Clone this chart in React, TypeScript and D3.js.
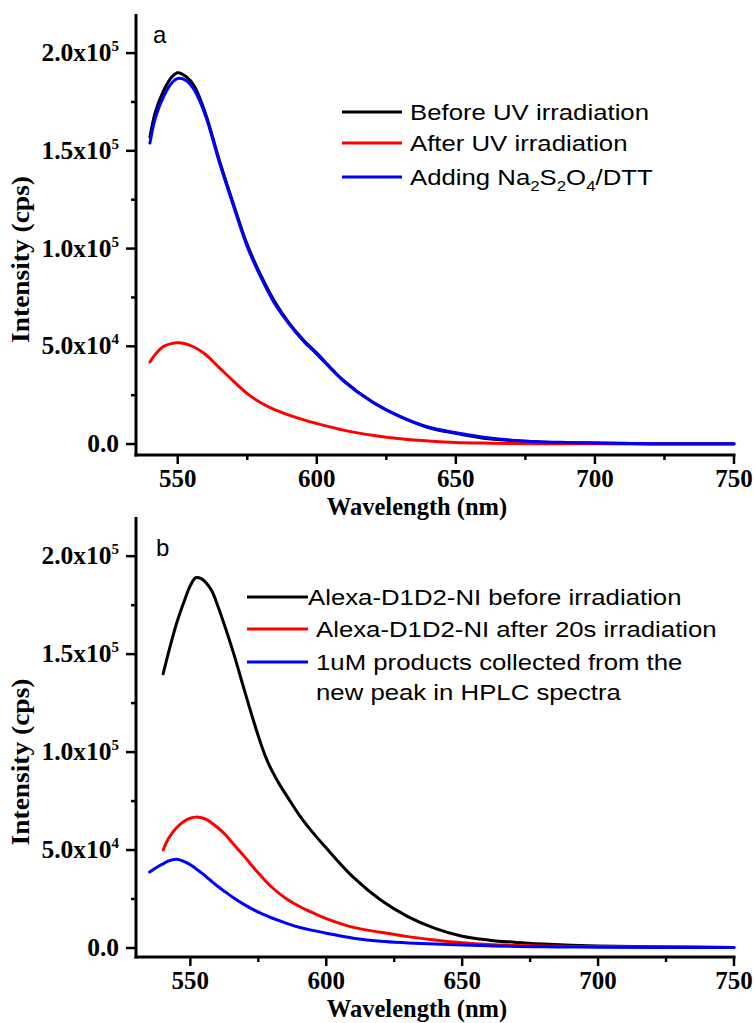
import React from "react";
import * as d3 from "d3";

// ---------- DATA (intensity in units of 10^5 cps) ----------
const wavelengthsA = [540, 542, 545, 548, 550, 553, 556, 560, 565, 570, 575, 580, 585, 590, 595, 600, 610, 620, 630, 640, 650, 660, 670, 680, 690, 700, 720, 750];
const beforeUV = [1.57, 1.70, 1.81, 1.88, 1.90, 1.88, 1.83, 1.69, 1.45, 1.23, 1.02, 0.86, 0.725, 0.62, 0.535, 0.465, 0.32, 0.215, 0.14, 0.085, 0.055, 0.03, 0.018, 0.011, 0.007, 0.005, 0.002, 0.001];
const afterUV = [0.42, 0.46, 0.50, 0.515, 0.518, 0.512, 0.495, 0.458, 0.39, 0.322, 0.258, 0.21, 0.175, 0.148, 0.125, 0.105, 0.07, 0.045, 0.027, 0.016, 0.008, 0.005, 0.003, 0.002, 0.001, 0.001, 0.0, 0.0];
const addingNa = [1.54, 1.67, 1.78, 1.85, 1.87, 1.86, 1.81, 1.68, 1.44, 1.22, 1.01, 0.85, 0.715, 0.615, 0.53, 0.46, 0.318, 0.215, 0.14, 0.087, 0.058, 0.035, 0.02, 0.012, 0.008, 0.005, 0.002, 0.001];

const wavelengthsB = [535, 538, 540, 542, 545, 548, 550, 552, 554, 556, 558, 560, 563, 566, 570, 573, 576, 578, 580, 583, 586, 590, 595, 600, 610, 620, 630, 640, 650, 660, 670, 680, 690, 700, 720, 750];
const alexaBefore = [null, null, 1.40, 1.51, 1.66, 1.78, 1.85, 1.89, 1.885, 1.86, 1.82, 1.75, 1.63, 1.50, 1.31, 1.17, 1.04, 0.965, 0.905, 0.83, 0.765, 0.68, 0.59, 0.51, 0.36, 0.245, 0.16, 0.10, 0.06, 0.04, 0.028, 0.02, 0.014, 0.01, 0.006, 0.003];
const alexaAfter = [null, null, 0.50, 0.56, 0.615, 0.65, 0.662, 0.668, 0.665, 0.655, 0.637, 0.615, 0.577, 0.528, 0.465, 0.415, 0.367, 0.337, 0.31, 0.275, 0.245, 0.213, 0.18, 0.15, 0.105, 0.08, 0.058, 0.041, 0.027, 0.018, 0.013, 0.01, 0.008, 0.007, 0.005, 0.003];
const hplcProducts = [0.388, 0.415, 0.43, 0.445, 0.453, 0.44, 0.425, 0.405, 0.385, 0.362, 0.338, 0.315, 0.285, 0.255, 0.22, 0.197, 0.177, 0.165, 0.153, 0.138, 0.123, 0.106, 0.09, 0.075, 0.05, 0.034, 0.026, 0.02, 0.015, 0.011, 0.008, 0.006, 0.005, 0.004, 0.003, 0.003];

const xTicks = [550, 600, 650, 700, 750];
const xMinorTicks = [525, 575, 625, 675, 725];
const yTicks = [0, 0.5, 1.0, 1.5, 2.0];
const yMinorTicks = [0.25, 0.75, 1.25, 1.75];
const yTickBase = ["0.0", "5.0x10", "1.0x10", "1.5x10", "2.0x10"];
const yTickExp = ["", "4", "5", "5", "5"];
const xTickLabels = ["550", "600", "650", "700", "750"];

const legendA = ["Before UV irradiation", "After UV irradiation", "Adding Na2S2O4/DTT"];
const legendB = ["Alexa-D1D2-NI before irradiation", "Alexa-D1D2-NI after 20s irradiation", "1uM products collected from the", "new peak in HPLC spectra"];
const colors = ["#000000", "#ff0000", "#0000ff"];

// ---------- LAYOUT ----------
const SERIF = "'Liberation Serif', 'Times New Roman', serif";
const SANS = "'Liberation Sans', Arial, sans-serif";

type Panel = {
  wl: number[];
  series: (number | null)[][];
  xDomain: [number, number];
  yDomain: [number, number];
  top: number;
  bottom: number;
  label: string;
  labelX: number;
  labelY: number;
};

const panels: Panel[] = [
  { wl: wavelengthsA, series: [beforeUV, afterUV, addingNa], xDomain: [535, 750], yDomain: [-0.056, 2.2], top: 14, bottom: 455, label: "a", labelX: 153, labelY: 43 },
  { wl: wavelengthsB, series: [alexaBefore, alexaAfter, hplcProducts], xDomain: [530, 750], yDomain: [-0.046, 2.2], top: 517, bottom: 957, label: "b", labelX: 156, labelY: 556 },
];

const LEFT = 136;
const RIGHT = 734;

function SText({ x, y, sx = 1, children, ...rest }: any) {
  return (
    <text transform={`translate(${x},${y}) scale(${sx},1)`} {...rest}>
      {children}
    </text>
  );
}

function PanelView({ p }: { p: Panel }) {
  const x = d3.scaleLinear().domain(p.xDomain).range([LEFT, RIGHT]);
  const y = d3.scaleLinear().domain(p.yDomain).range([p.bottom, p.top]);
  const line = d3
    .line<[number, number | null]>()
    .defined((d) => d[1] !== null)
    .x((d) => x(d[0]))
    .y((d) => y(d[1] as number))
    .curve(d3.curveCatmullRom.alpha(0.5));

  const minorX = xMinorTicks.filter((t) => t > p.xDomain[0] && t <= p.xDomain[1]);

  return (
    <g>
      {p.series.map((s, i) => (
        <path
          key={i}
          d={line(p.wl.map((w, j) => [w, s[j]] as [number, number | null])) || ""}
          fill="none"
          stroke={colors[i]}
          strokeWidth={3}
          strokeLinejoin="round"
          strokeLinecap="round"
        />
      ))}
      <line x1={LEFT} x2={LEFT} y1={p.top} y2={p.bottom + 1.5} stroke="#000" strokeWidth={3} />
      <line x1={LEFT - 1.5} x2={RIGHT + 1.5} y1={p.bottom} y2={p.bottom} stroke="#000" strokeWidth={3} />
      {yTicks.map((t, i) => (
        <g key={"yt" + i}>
          <line x1={LEFT - 10} x2={LEFT} y1={y(t)} y2={y(t)} stroke="#000" strokeWidth={2.5} />
          <text x={119} y={y(t) + 8} textAnchor="end" fontFamily={SERIF} fontWeight="bold" fontSize={25.5} fill="#000">
            {yTickBase[i]}
            {yTickExp[i] && (
              <tspan fontSize={15} dy={-10}>
                {yTickExp[i]}
              </tspan>
            )}
          </text>
        </g>
      ))}
      {yMinorTicks.map((t, i) => (
        <line key={"ym" + i} x1={LEFT - 5} x2={LEFT} y1={y(t)} y2={y(t)} stroke="#000" strokeWidth={2.5} />
      ))}
      {xTicks.map((t, i) => (
        <g key={"xt" + i}>
          <line x1={x(t)} x2={x(t)} y1={p.bottom} y2={p.bottom + 9} stroke="#000" strokeWidth={2.5} />
          <text x={x(t)} y={p.bottom + 32} textAnchor="middle" fontFamily={SERIF} fontWeight="bold" fontSize={25} fill="#000">
            {xTickLabels[i]}
          </text>
        </g>
      ))}
      {minorX.map((t, i) => (
        <line key={"xm" + i} x1={x(t)} x2={x(t)} y1={p.bottom} y2={p.bottom + 5} stroke="#000" strokeWidth={2.5} />
      ))}
      <text x={417} y={p.bottom + 60} textAnchor="middle" fontFamily={SERIF} fontWeight="bold" fontSize={24.5} fill="#000">
        Wavelength (nm)
      </text>
      <text
        transform={`translate(29,${(p.top + p.bottom) / 2 + 25}) rotate(-90) scale(1.12,1)`}
        textAnchor="middle"
        fontFamily={SERIF}
        fontWeight="bold"
        fontSize={24.5}
        fill="#000"
      >
        Intensity (cps)
      </text>
      <text x={p.labelX} y={p.labelY} fontFamily={SANS} fontSize={24} fill="#000">
        {p.label}
      </text>
    </g>
  );
}

export default function App() {
  const legendFont = 23;
  const legendSx = 1.12;
  const rowsA = [112, 143, 177];
  const rowsB = [597, 629, 662, 692];
  return (
    <svg width={756} height={1023} style={{ position: "absolute", left: 0, top: 0, background: "#fff" }}>
      <rect x={0} y={0} width={756} height={1023} fill="#fff" />
      {panels.map((p, i) => (
        <PanelView key={i} p={p} />
      ))}
      {legendA.map((t, i) => (
        <g key={"la" + i}>
          <line x1={342} x2={402} y1={rowsA[i]} y2={rowsA[i]} stroke={colors[i]} strokeWidth={3} />
          <SText x={410} y={rowsA[i] + 8} sx={legendSx} fontFamily={SANS} fontSize={legendFont} fill="#000">
            {i === 2 ? (
              <>
                {"Adding Na"}
                <tspan fontSize={15} dy={6}>2</tspan>
                <tspan dy={-6}>S</tspan>
                <tspan fontSize={15} dy={6}>2</tspan>
                <tspan dy={-6}>O</tspan>
                <tspan fontSize={15} dy={6}>4</tspan>
                <tspan dy={-6}>/DTT</tspan>
              </>
            ) : (
              t
            )}
          </SText>
        </g>
      ))}
      {legendB.map((t, i) => (
        <g key={"lb" + i}>
          {i < 3 && <line x1={247} x2={308} y1={rowsB[i]} y2={rowsB[i]} stroke={colors[i]} strokeWidth={3} />}
          <SText x={i === 0 ? 308 : 316} y={rowsB[i] + 8} sx={legendSx} fontFamily={SANS} fontSize={legendFont} fill="#000">
            {t}
          </SText>
        </g>
      ))}
    </svg>
  );
}
